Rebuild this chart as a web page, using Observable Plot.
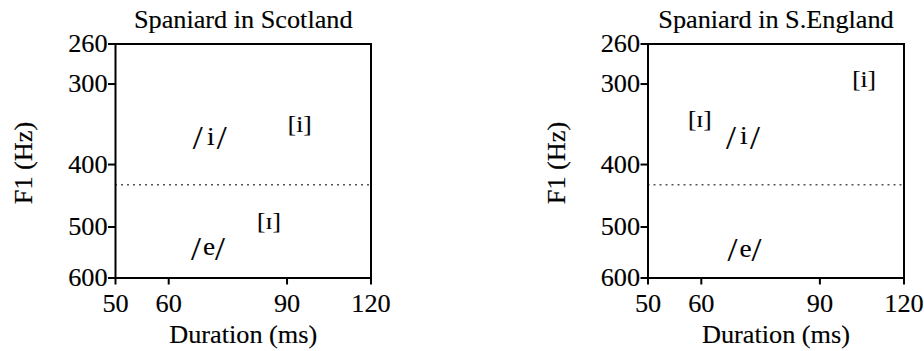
<!DOCTYPE html>
<html><head><meta charset="utf-8">
<script src="https://cdn.jsdelivr.net/npm/d3@7"></script>
<script src="https://cdn.jsdelivr.net/npm/@observablehq/plot@0.6"></script>
<style>
html,body{margin:0;padding:0;background:#fff;}
#wrap{position:relative;width:924px;height:351px;overflow:hidden;}
#wrap svg{position:absolute;top:0;overflow:visible;}
#wrap svg text{stroke:#000;stroke-width:0.15px;}
</style></head><body><div id="wrap"></div>
<script>
const panelTitles = ["Spaniard in Scotland", "Spaniard in S.England"];
const xLabel = "Duration (ms)";
const yLabel = "F1 (Hz)";
const xTicks = [50, 60, 90, 120];
const yTicks = [260, 300, 400, 500, 600];
const boundaryF1 = [430];

// phonemic targets /x/
const slashVowel = ["i", "e", "i", "e"];
const slashPanel = [0, 0, 1, 1];
const slashDur = [69.3, 68.9, 69.4, 69.8];
const slashF1 = [362, 537, 361, 540];

// phonetic realisations [x]
const bracketLabel = ["[i]", "[ɪ]", "[i]", "[ɪ]"];
const bracketPanel = [0, 0, 1, 1];
const bracketDur = [94.0, 84.6, 104.7, 59.7];
const bracketF1 = [347, 490, 295, 340];

const STRETCH = 1.05;
function stretchText(svg, k) {
  svg.querySelectorAll("text").forEach(t => {
    const x = parseFloat(t.getAttribute("x")) || 0;
    const tr = t.getAttribute("transform") || "";
    t.setAttribute("transform", `${tr} translate(${x},0) scale(${k},1) translate(${-x},0)`);
  });
}

function panel(p, left, ml, mr, labelDx) {
  const slash = slashVowel.map((v, i) => ({v, x: slashDur[i], y: slashF1[i], p: slashPanel[i]})).filter(d => d.p === p);
  const br = bracketLabel.map((t, i) => ({t, x: bracketDur[i], y: bracketF1[i], p: bracketPanel[i]})).filter(d => d.p === p);
  const svg = Plot.plot({
    width: 462, height: 351,
    marginLeft: ml, marginRight: mr, marginTop: 43.5, marginBottom: 73.5,
    x: {type: "log", domain: [50, 120]},
    y: {type: "log", domain: [260, 600], reverse: true},
    style: {fontFamily: "'Liberation Serif', 'Times New Roman', serif", fontSize: "25px", color: "black", background: "transparent"},
    marks: [
      Plot.ruleY(boundaryF1, {stroke: "#555", strokeWidth: 1.4, strokeDasharray: "2,4"}),
      Plot.frame({stroke: "black", strokeWidth: 2}),
      Plot.axisX({ticks: xTicks, tickFormat: d => String(d), tickSize: 7, tickPadding: 9.5, strokeWidth: 2, label: null}),
      Plot.axisY({ticks: yTicks, tickFormat: d => String(d), tickSize: 7, tickPadding: 1, strokeWidth: 2, label: null}),
      Plot.text(slash, {x: "x", y: "y", text: "v", fontSize: 26}),
      Plot.text(slash, {x: "x", y: "y", text: () => "/", fontSize: 34, dx: -13, dy: 2}),
      Plot.text(slash, {x: "x", y: "y", text: () => "/", fontSize: 34, dx: 11, dy: 2}),
      Plot.text(br, {x: "x", y: "y", text: "t", fontSize: 24}),
      Plot.text([panelTitles[p]], {frameAnchor: "top", dy: -16, lineAnchor: "bottom"}),
      Plot.text([xLabel], {frameAnchor: "bottom", dy: 65, lineAnchor: "bottom"}),
      Plot.text([yLabel], {frameAnchor: "left", textAnchor: "middle", lineAnchor: "middle", dx: labelDx, dy: 2, rotate: -90})
    ]
  });
  stretchText(svg, STRETCH);
  svg.style.left = left + "px";
  document.getElementById("wrap").appendChild(svg);
}
panel(0, 0, 115, 91.5, -92);
panel(1, 462, 185.5, 20.5, -91);
</script></body></html>
